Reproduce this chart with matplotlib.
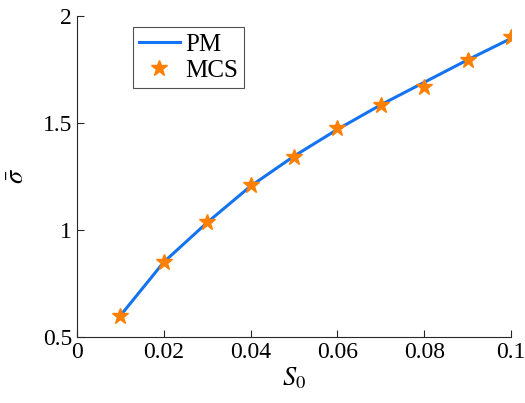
import matplotlib
matplotlib.use('Agg')
import matplotlib.pyplot as plt

# dane
s0 = [0.01, 0.02, 0.03, 0.04, 0.05, 0.06, 0.07, 0.08, 0.09, 0.10]
sigma_pm = [0.60, 0.85, 1.035, 1.205, 1.345, 1.47, 1.585, 1.69, 1.795, 1.895]
sigma_mcs = [0.598, 0.85, 1.037, 1.21, 1.341, 1.477, 1.584, 1.668, 1.794, 1.90]

plt.rcParams['font.family'] = ['Liberation Serif', 'DejaVu Serif']
plt.rcParams['mathtext.fontset'] = 'stix'

fig = plt.figure(figsize=(5.25, 4.03), dpi=100)
ax = fig.add_axes([77/525, 1 - 337/403, 434/525, 321/403])

ax.plot(s0, sigma_pm, color='#1473f0', lw=2.2, label='PM')
ax.plot(s0, sigma_mcs, ls='none', marker='*', ms=12, color='#ff8000', label='MCS')

ax.set_xlim(0, 0.1)
ax.set_ylim(0.5, 2)
ax.set_xticks([0, 0.02, 0.04, 0.06, 0.08, 0.1])
ax.set_xticklabels(['0', '0.02', '0.04', '0.06', '0.08', '0.1'])
ax.set_yticks([0.5, 1, 1.5, 2])
ax.set_yticklabels(['0.5', '1', '1.5', '2'])
ax.tick_params(direction='in', labelsize=17, length=5, width=0.8, colors='#262626', labelcolor='black')
for sp in ['top', 'right']:
    ax.spines[sp].set_visible(False)
for sp in ['left', 'bottom']:
    ax.spines[sp].set_color('#262626')
    ax.spines[sp].set_linewidth(0.8)

ax.set_xlabel(r'$S_0$', fontsize=19, labelpad=2)
ax.set_ylabel(r'$\bar{\sigma}$', fontsize=19, labelpad=10)

leg = ax.legend(loc='upper left', bbox_to_anchor=(0.128, 0.965), fontsize=18, frameon=True,
                fancybox=False, edgecolor='#262626', handlelength=1.65, borderpad=0.25,
                labelspacing=0.15, handletextpad=0.2, borderaxespad=0)
leg.get_frame().set_linewidth(0.8)

fig.savefig('out.png', dpi=100)
